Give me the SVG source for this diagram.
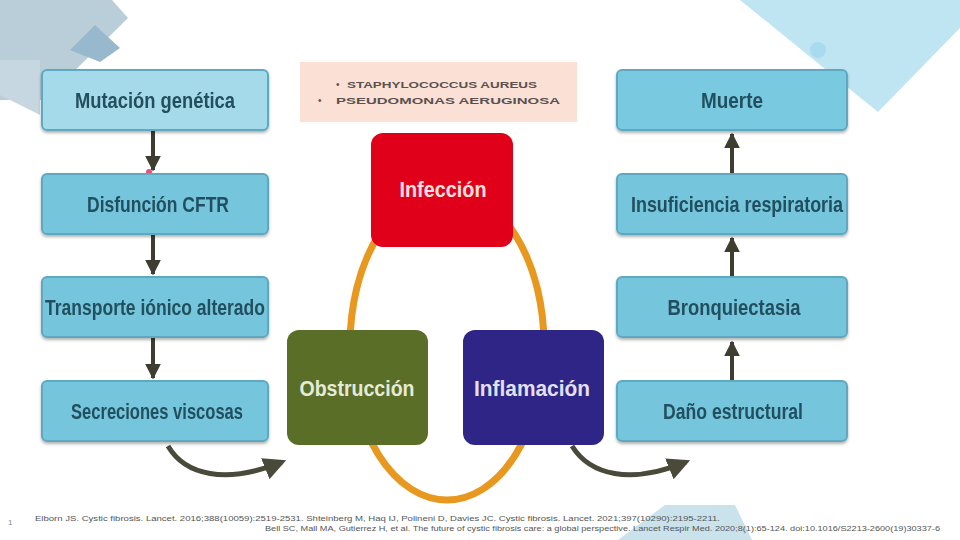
<svg xmlns="http://www.w3.org/2000/svg" width="960" height="540" viewBox="0 0 960 540">
<defs>
<style>
.bx{fill:#74C5DD;stroke:#5FA9C0;stroke-width:2}
.bt{font-family:"Liberation Sans",Arial,sans-serif;font-size:22px;font-weight:bold;fill:#23505E;text-anchor:middle}
.ct{font-family:"Liberation Sans",Arial,sans-serif;font-size:22px;font-weight:bold;text-anchor:middle}
.arr{stroke:#3E3D30;stroke-width:4;fill:none}
.curve{stroke:#4A4A3A;stroke-width:5;fill:none}
.ref{font-family:"Liberation Sans",Arial,sans-serif;font-size:6.5px;fill:#555}
</style>
<filter id="sh" x="-10%" y="-10%" width="120%" height="130%">
<feDropShadow dx="0" dy="2" stdDeviation="1.5" flood-color="#000" flood-opacity="0.3"/>
</filter>
<marker id="ah" viewBox="0 0 10 10" refX="9" refY="5" markerWidth="4" markerHeight="4" orient="auto">
<path d="M0,0 L10,5 L0,10 z" fill="#3E3D30"/>
</marker>
<marker id="ah2" viewBox="0 0 10 10" refX="8" refY="5" markerWidth="4.5" markerHeight="4.5" orient="auto">
<path d="M0,0 L10,5 L0,10 z" fill="#4A4A3A"/>
</marker>
</defs>
<rect width="960" height="540" fill="#FFFFFF"/>
<!-- decorations -->
<polygon points="0,0 112,0 128,18 45,100 0,100" fill="#BACEDA"/>
<polygon points="95,25 120,48 100,62 70,50" fill="#97B8CD"/>
<polygon points="0,60 40,60 40,115 0,95" fill="#C6D7E1"/>
<polygon points="740,0 960,0 960,28 878,112" fill="#BFE5F3"/>
<circle cx="818" cy="50" r="8" fill="#A9DBEE"/>
<polygon points="618,540 665,505 735,505 752,540" fill="#C9E2EC"/>
<!-- orange loop -->
<ellipse cx="447" cy="345" rx="97" ry="155" fill="none" stroke="#E8981F" stroke-width="7"/>
<!-- connectors -->
<g id="connectors">
<line class="arr" x1="153" y1="131" x2="153" y2="170" marker-end="url(#ah)"/>
<line class="arr" x1="153" y1="235" x2="153" y2="274" marker-end="url(#ah)"/>
<line class="arr" x1="153" y1="338" x2="153" y2="378" marker-end="url(#ah)"/>
<line class="arr" x1="732" y1="173" x2="732" y2="134" marker-end="url(#ah)"/>
<line class="arr" x1="732" y1="277" x2="732" y2="238" marker-end="url(#ah)"/>
<line class="arr" x1="732" y1="381" x2="732" y2="342" marker-end="url(#ah)"/>
<circle cx="149" cy="172" r="3" fill="#E8507A"/>
<path class="curve" d="M168,446 C185,475 225,485 282,462" marker-end="url(#ah2)"/>
<path class="curve" d="M572,446 C590,475 630,485 686,462" marker-end="url(#ah2)"/>
</g>
<!-- left column -->
<g id="mutacion" filter="url(#sh)"><rect x="42" y="70" width="226" height="60" rx="5" class="bx" style="fill:#A5DAEA"/><text x="155" y="108" class="bt" textLength="160" lengthAdjust="spacingAndGlyphs">Mutación genética</text></g>
<g id="disfuncion" filter="url(#sh)"><rect x="42" y="174" width="226" height="60" rx="5" class="bx"/><text x="158" y="212" class="bt" textLength="142" lengthAdjust="spacingAndGlyphs">Disfunción CFTR</text></g>
<g id="transporte" filter="url(#sh)"><rect x="42" y="277" width="226" height="60" rx="5" class="bx"/><text x="155" y="315" class="bt" textLength="220" lengthAdjust="spacingAndGlyphs">Transporte iónico alterado</text></g>
<g id="secreciones" filter="url(#sh)"><rect x="42" y="381" width="226" height="60" rx="5" class="bx"/><text x="157" y="419" class="bt" textLength="172" lengthAdjust="spacingAndGlyphs">Secreciones viscosas</text></g>
<!-- right column -->
<g id="muerte" filter="url(#sh)"><rect x="617" y="70" width="230" height="60" rx="5" class="bx" style="fill:#79C9E1"/><text x="732" y="108" class="bt" textLength="62" lengthAdjust="spacingAndGlyphs">Muerte</text></g>
<g id="insuficiencia" filter="url(#sh)"><rect x="617" y="174" width="230" height="60" rx="5" class="bx"/><text x="737" y="212" class="bt" textLength="212" lengthAdjust="spacingAndGlyphs">Insuficiencia respiratoria</text></g>
<g id="bronquiectasia" filter="url(#sh)"><rect x="617" y="277" width="230" height="60" rx="5" class="bx"/><text x="734" y="315" class="bt" textLength="133" lengthAdjust="spacingAndGlyphs">Bronquiectasia</text></g>
<g id="dano" filter="url(#sh)"><rect x="617" y="381" width="230" height="60" rx="5" class="bx"/><text x="733" y="419" class="bt" textLength="140" lengthAdjust="spacingAndGlyphs">Daño estructural</text></g>
<!-- pathogens box -->
<g id="patogenos">
<rect x="300" y="62" width="277" height="60" fill="#FBE1D5"/>
<text class="ref" x="336" y="88" style="font-size:10px;fill:#555">•</text>
<text x="347" y="88" style="font-family:'Liberation Sans',Arial,sans-serif;font-size:9.5px;font-weight:bold;fill:#5A5050" textLength="190" lengthAdjust="spacingAndGlyphs">STAPHYLOCOCCUS AUREUS</text>
<text class="ref" x="318" y="104" style="font-size:10px;fill:#555">•</text>
<text x="336" y="104" style="font-family:'Liberation Sans',Arial,sans-serif;font-size:9.5px;font-weight:bold;fill:#5A5050" textLength="224" lengthAdjust="spacingAndGlyphs">PSEUDOMONAS AERUGINOSA</text>
</g>
<!-- cycle nodes -->
<g id="infeccion"><rect x="371" y="133" width="142" height="114" rx="12" fill="#E0001A"/><text x="443" y="197" class="ct" fill="#FBE0E0" textLength="87" lengthAdjust="spacingAndGlyphs">Infección</text></g>
<g id="obstruccion"><rect x="287" y="330" width="141" height="115" rx="12" fill="#5A6E28"/><text x="357" y="396" class="ct" fill="#E4EBD6" textLength="115" lengthAdjust="spacingAndGlyphs">Obstrucción</text></g>
<g id="inflamacion"><rect x="463" y="330" width="141" height="115" rx="12" fill="#2E2586"/><text x="532" y="396" class="ct" fill="#E2E0F2" textLength="116" lengthAdjust="spacingAndGlyphs">Inflamación</text></g>
<!-- footer -->
<text x="8" y="525" style="font-family:'Liberation Sans',Arial,sans-serif;font-size:8px;fill:#888">1</text>
<text class="ref" x="35" y="521" textLength="685" lengthAdjust="spacingAndGlyphs">Elborn JS. Cystic fibrosis. Lancet. 2016;388(10059):2519-2531. Shteinberg M, Haq IJ, Polineni D, Davies JC. Cystic fibrosis. Lancet. 2021;397(10290):2195-2211.</text>
<text class="ref" x="265" y="531" textLength="675" lengthAdjust="spacingAndGlyphs">Bell SC, Mall MA, Gutierrez H, et al. The future of cystic fibrosis care: a global perspective. Lancet Respir Med. 2020;8(1):65-124. doi:10.1016/S2213-2600(19)30337-6</text>
</svg>
